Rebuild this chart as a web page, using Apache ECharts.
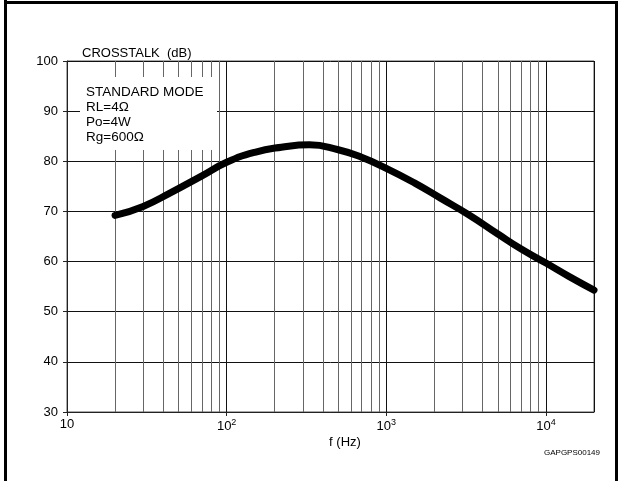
<!DOCTYPE html>
<html>
<head>
<meta charset="utf-8">
<script src="https://cdn.jsdelivr.net/npm/echarts@6/dist/echarts.min.js"></script>
<style>html,body{margin:0;padding:0;background:#fff}#c{width:622px;height:481px}</style>
</head>
<body>
<div id="c"></div>
<script>
var freqHz = [20, 30, 45, 70, 100, 150, 220, 330, 500, 700, 1000, 1500, 2200, 3300, 5000, 7000, 10000, 14000, 20000];
var crosstalkDb = [69.2, 71.0, 73.8, 77.1, 79.8, 81.8, 82.8, 83.3, 82.3, 80.8, 78.6, 75.7, 72.6, 69.3, 65.5, 62.5, 59.7, 57.0, 54.3];
var decades = [10, 100, 1000, 10000];
var minorMult = [2, 3, 4, 5, 6, 7, 8, 9];
var yTicks = [30, 40, 50, 60, 70, 80, 90, 100];
var yLabel = 'CROSSTALK  (dB)';
var xLabel = 'f (Hz)';
var boxLines = ['STANDARD MODE', 'RL=4\u03A9', 'Po=4W', 'Rg=600\u03A9'];
var refCode = 'GAPGPS00149';

var FONT = '"Liberation Sans", Arial, sans-serif';
var minorLines = [];
decades.forEach(function (d) {
  minorMult.forEach(function (m) {
    var v = d * m;
    if (v < 20000) minorLines.push({ xAxis: v });
  });
});
var points = freqHz.map(function (f, i) { return [f, crosstalkDb[i]]; });

var chart = echarts.init(document.getElementById('c'), null, { renderer: 'canvas' });
var graphics = [
  { type: 'line', shape: { x1: 5.5, y1: 0, x2: 5.5, y2: 481 }, style: { stroke: '#000', lineWidth: 3 }, z: 200 },
  { type: 'line', shape: { x1: 4, y1: 2.5, x2: 618, y2: 2.5 }, style: { stroke: '#000', lineWidth: 3 }, z: 200 },
  { type: 'line', shape: { x1: 616.5, y1: 2, x2: 616.5, y2: 481 }, style: { stroke: '#000', lineWidth: 3 }, z: 200 },
  { type: 'rect', shape: { x: 80, y: 77, width: 137, height: 73 }, style: { fill: '#fff' }, z: 100 },
  { type: 'text', x: 82, y: 47, style: { text: yLabel, font: '13px ' + FONT, fill: '#000' }, z: 101 },
  { type: 'text', x: 345, y: 442, style: { text: xLabel, font: '13px ' + FONT, fill: '#000', align: 'center', verticalAlign: 'middle' }, z: 101 },
  { type: 'text', x: 572, y: 453, style: { text: refCode, font: '8px ' + FONT, fill: '#000', align: 'center', verticalAlign: 'middle' }, z: 101 }
];
boxLines.forEach(function (t, i) {
  graphics.push({ type: 'text', x: 86, y: 92 + i * 15, style: { text: t, font: '13.5px ' + FONT, fill: '#000', verticalAlign: 'middle' }, z: 101 });
});

chart.setOption({
  animation: false,
  backgroundColor: '#fff',
  grid: { left: 67, right: 28, top: 61, bottom: 69, show: true, borderColor: '#555', borderWidth: 1, backgroundColor: 'transparent' },
  xAxis: {
    type: 'log', logBase: 10, min: 10, max: 20000,
    axisLine: { show: true, onZero: false, lineStyle: { color: '#222', width: 1 } },
    axisTick: { show: true, length: 4, lineStyle: { color: '#222' } },
    splitLine: { show: true, lineStyle: { color: '#111', width: 1 } },
    axisLabel: {
      showMaxLabel: false, margin: 6, color: '#000', fontFamily: FONT, fontSize: 13,
      formatter: function (v) {
        if (decades.indexOf(v) < 0) return '';
        var e = Math.round(Math.log10(v));
        return e === 1 ? '10' : '10{sup|' + e + '}';
      },
      rich: { sup: { fontSize: 9, fontFamily: FONT, color: '#000', verticalAlign: 'bottom', padding: [0, 0, 7, 0] } }
    }
  },
  yAxis: {
    type: 'value', min: yTicks[0], max: yTicks[yTicks.length - 1], interval: 10,
    axisLine: { show: true, lineStyle: { color: '#222', width: 1 } },
    axisTick: { show: true, length: 4, lineStyle: { color: '#222' } },
    splitLine: { show: true, lineStyle: { color: '#111', width: 1 } },
    axisLabel: { margin: 9, color: '#000', fontFamily: FONT, fontSize: 13 }
  },
  series: [
    {
      type: 'line', data: [], z: 1, silent: true,
      markLine: { silent: true, symbol: 'none', label: { show: false }, animation: false,
        lineStyle: { color: '#666', width: 1, type: 'solid' }, emphasis: { disabled: true }, data: minorLines }
    },
    {
      type: 'line', data: points, smooth: 0.5, showSymbol: false, z: 5,
      lineStyle: { color: '#000', width: 7, cap: 'round', join: 'round' }
    }
  ],
  graphic: graphics
});
</script>
</body>
</html>
